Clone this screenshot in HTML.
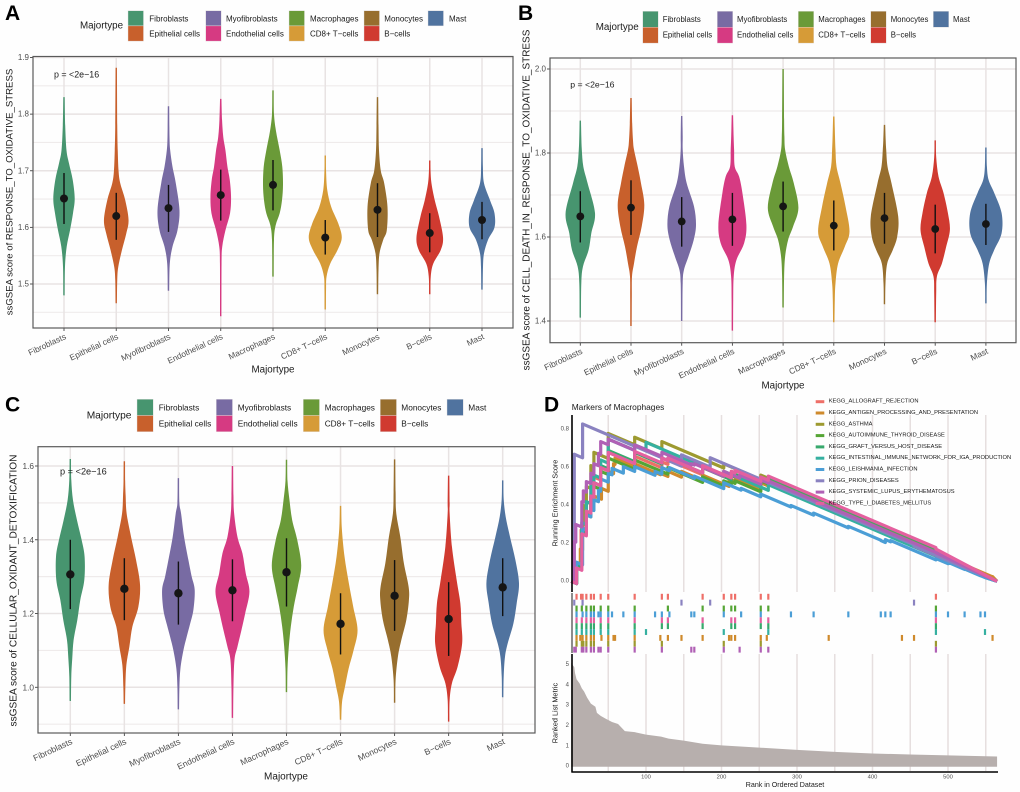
<!DOCTYPE html>
<html lang="en">
<head>
<meta charset="utf-8">
<title>ssGSEA violin plots and GSEA enrichment</title>
<style>
html,body{margin:0;padding:0;background:#fefefe;}
svg{display:block;font-family:"Liberation Sans",sans-serif;}
</style>
</head>
<body>
<svg id="fig" xmlns="http://www.w3.org/2000/svg" width="1020" height="792" viewBox="0 0 1020 792">
<rect x="0" y="0" width="1020" height="792" fill="#fefefe"/>
<g id="panelA"></g>
<g id="panelB"></g>
<g id="panelC"></g>
<g id="panelD"></g>
<g font-weight="bold" font-size="21" fill="#000">
<text x="5" y="20">A</text>
<text x="518" y="20">B</text>
<text x="5" y="411.5">C</text>
<text x="544" y="411.5">D</text>
</g>
<g fill="#1a1a1a">
<text font-size="9.6" text-anchor="middle" transform="translate(10,192) rotate(-90)" dominant-baseline="central">ssGSEA score of RESPONSE_TO_OXIDATIVE_STRESS</text>
<text font-size="9.98" text-anchor="middle" transform="translate(527,200) rotate(-90)" dominant-baseline="central">ssGSEA score of CELL_DEATH_IN_RESPONSE_TO_OXIDATIVE_STRESS</text>
<text font-size="10.15" text-anchor="middle" transform="translate(14,590.5) rotate(-90)" dominant-baseline="central">ssGSEA score of CELLULAR_OXIDANT_DETOXIFICATION</text>
<text font-size="9.8" text-anchor="middle" x="273" y="370" dominant-baseline="central">Majortype</text>
<text font-size="9.8" text-anchor="middle" x="783" y="386" dominant-baseline="central">Majortype</text>
<text font-size="10" text-anchor="middle" x="286" y="777" dominant-baseline="central">Majortype</text>
<text font-size="9.8" x="80" y="26" dominant-baseline="central">Majortype</text>
<text font-size="9.8" x="595.7" y="27.7" dominant-baseline="central">Majortype</text>
<text font-size="10.2" x="86.7" y="416" dominant-baseline="central">Majortype</text>
<text font-size="8.9" x="54" y="74.3" dominant-baseline="central">p = &lt;2e−16</text>
<text font-size="8.7" x="570.3" y="84.7" dominant-baseline="central">p = &lt;2e−16</text>
<text font-size="9.2" x="60" y="471.7" dominant-baseline="central">p = &lt;2e−16</text>
<text font-size="8.4" x="571.7" y="407" dominant-baseline="central">Markers of Macrophages</text>
<text font-size="7.25" text-anchor="middle" transform="translate(555,503) rotate(-90)" dominant-baseline="central">Running Enrichment Score</text>
<text font-size="7.3" text-anchor="middle" transform="translate(555,713) rotate(-90)" dominant-baseline="central">Ranked List Metric</text>
<text font-size="7.1" text-anchor="middle" x="785" y="785" dominant-baseline="central">Rank in Ordered Dataset</text>
</g>
</svg>
<script>
const categories = ["Fibroblasts","Epithelial cells","Myofibroblasts","Endothelial cells","Macrophages","CD8+ T\u2212cells","Monocytes","B\u2212cells","Mast"];

const ticksA = [1.5,1.6,1.7,1.8,1.9];
const minorTicksA = [1.45,1.55,1.65,1.75,1.85];
const medianA = [1.651,1.62,1.634,1.657,1.675,1.582,1.631,1.59,1.613];
const barLowA = [1.606,1.578,1.592,1.612,1.63,1.552,1.583,1.556,1.579];
const barHighA = [1.696,1.661,1.675,1.702,1.719,1.613,1.678,1.625,1.645];
const densityA = [
 [[1.83,.7],[1.78,1.2],[1.736,2.5],[1.713,5],[1.684,8.7],[1.651,10.7],[1.625,9],[1.595,6],[1.566,2.7],[1.531,1],[1.48,.7]],
 [[1.882,.7],[1.78,1],[1.736,1.5],[1.70,2.3],[1.678,4],[1.648,9],[1.613,12.3],[1.589,10],[1.56,5.7],[1.53,2],[1.507,1],[1.466,.7]],
 [[1.814,.7],[1.76,1],[1.736,1.7],[1.707,4],[1.678,7.3],[1.63,11],[1.595,9],[1.566,4],[1.536,1.3],[1.488,.7]],
 [[1.827,.7],[1.79,1.3],[1.76,2.5],[1.736,4.7],[1.707,6.7],[1.684,9],[1.654,10.3],[1.625,9.3],[1.595,4.7],[1.566,1.5],[1.536,.8],[1.443,.7]],
 [[1.842,.7],[1.80,1],[1.77,3],[1.736,6.7],[1.707,9.3],[1.675,10],[1.648,9],[1.625,6.7],[1.604,2.7],[1.578,1],[1.513,.7]],
 [[1.727,.7],[1.70,.8],[1.666,2],[1.636,6],[1.607,13],[1.582,16.5],[1.56,12.3],[1.536,5],[1.513,1.3],[1.49,.8],[1.455,.7]],
 [[1.83,.7],[1.78,1],[1.736,1.5],[1.70,3.3],[1.678,6.7],[1.636,10],[1.595,9.3],[1.578,5.7],[1.554,2],[1.525,1],[1.482,.7]],
 [[1.718,.7],[1.70,.8],[1.678,1.7],[1.648,5],[1.619,9.3],[1.582,13.3],[1.56,11],[1.536,3.5],[1.513,1],[1.482,.7]],
 [[1.74,.7],[1.707,.9],[1.678,2],[1.648,8],[1.625,12.5],[1.60,12.5],[1.578,6],[1.554,2],[1.53,1],[1.49,.7]]
];

const ticksB = [1.4,1.6,1.8,2.0];
const minorTicksB = [1.5,1.7,1.9];
const medianB = [1.649,1.67,1.637,1.642,1.673,1.627,1.645,1.619,1.631];
const barLowB = [1.587,1.605,1.577,1.579,1.613,1.568,1.584,1.561,1.581];
const barHighB = [1.709,1.735,1.695,1.705,1.732,1.687,1.705,1.677,1.679];
const densityB = [
 [[1.877,.7],[1.84,1],[1.808,1.5],[1.768,3],[1.728,7.3],[1.657,14.7],[1.609,11],[1.569,8.3],[1.53,2.7],[1.49,1],[1.408,.7]],
 [[1.931,.7],[1.87,1.2],[1.83,2],[1.808,3],[1.768,6.7],[1.728,10],[1.677,13.3],[1.625,10.7],[1.577,6],[1.537,3],[1.506,1],[1.458,.8],[1.388,.7]],
 [[1.888,.7],[1.84,1],[1.808,1],[1.768,2.3],[1.728,5],[1.673,12.3],[1.629,14.3],[1.593,12],[1.553,6.7],[1.522,2.3],[1.49,1],[1.40,.7]],
 [[1.89,.7],[1.84,1.2],[1.808,1.7],[1.768,2.3],[1.744,6.7],[1.705,10],[1.629,14],[1.585,11.7],[1.545,4],[1.506,1.3],[1.45,.8],[1.377,.7]],
 [[2.0,.7],[1.88,1],[1.84,1.3],[1.808,2],[1.768,5.7],[1.728,10.7],[1.669,15.3],[1.625,10],[1.593,5],[1.553,2],[1.506,1],[1.432,.7]],
 [[1.887,.7],[1.84,1.2],[1.808,1.7],[1.768,2.7],[1.728,6.7],[1.673,11.7],[1.613,15.7],[1.577,11],[1.537,4.3],[1.49,1.7],[1.45,1],[1.397,.7]],
 [[1.867,.7],[1.83,1.2],[1.808,1.7],[1.768,3],[1.728,7],[1.649,13.7],[1.601,12.7],[1.569,8.3],[1.537,2.7],[1.49,1],[1.44,.7]],
 [[1.83,.7],[1.79,1],[1.744,3.3],[1.705,8.3],[1.657,12.7],[1.617,14.7],[1.577,11],[1.537,6.7],[1.506,1.7],[1.466,1],[1.397,.7]],
 [[1.813,.7],[1.768,1],[1.736,2.7],[1.705,8.3],[1.657,15.7],[1.609,15.7],[1.569,8.3],[1.537,3.3],[1.49,1],[1.442,.7]]
];

const ticksC = [1.0,1.2,1.4,1.6];
const minorTicksC = [0.9,1.1,1.3,1.5];
const medianC = [1.306,1.267,1.255,1.263,1.312,1.172,1.248,1.185,1.271];
const barLowC = [1.212,1.182,1.17,1.179,1.219,1.089,1.153,1.085,1.193];
const barHighC = [1.40,1.35,1.341,1.347,1.404,1.255,1.345,1.285,1.35];
const densityC = [
 [[1.619,.7],[1.562,1],[1.507,2.7],[1.453,6.7],[1.40,11.3],[1.354,14.3],[1.291,14],[1.237,10],[1.182,7],[1.128,3.3],[1.08,2],[1.03,1],[.963,.7]],
 [[1.613,.7],[1.56,.8],[1.52,1.3],[1.471,2.3],[1.408,6.7],[1.345,11.7],[1.277,15.7],[1.218,14],[1.164,8],[1.11,5],[1.06,2],[1.0,1],[.955,.7]],
 [[1.567,.7],[1.50,1],[1.471,2.7],[1.408,5.7],[1.345,10],[1.30,13.3],[1.264,16.3],[1.21,15],[1.17,11.5],[1.137,8.3],[1.10,5],[1.05,2],[1.0,1],[.94,.7]],
 [[1.60,.7],[1.52,1],[1.471,1.7],[1.408,5],[1.363,10],[1.309,13.3],[1.259,17],[1.20,12.7],[1.155,9],[1.11,5],[1.074,2],[1.0,1],[.917,.7]],
 [[1.617,.7],[1.56,1],[1.507,3],[1.453,5.7],[1.40,10.7],[1.331,14.7],[1.273,11.3],[1.219,7.3],[1.164,4.3],[1.11,2.3],[1.05,1],[.987,.7]],
 [[1.492,.7],[1.43,1.3],[1.354,4],[1.282,8.3],[1.218,12.7],[1.155,17],[1.10,13],[1.05,8],[1.0,4.3],[.96,1.5],[.912,.7]],
 [[1.618,.7],[1.53,1],[1.471,1.7],[1.408,5.7],[1.336,9.3],[1.273,14],[1.236,14.3],[1.182,11.7],[1.128,6.7],[1.083,3.3],[1.02,1],[.958,.7]],
 [[1.574,.7],[1.50,1],[1.471,1],[1.381,3.3],[1.291,8],[1.228,11.7],[1.174,12.7],[1.119,13.5],[1.056,9],[1.011,3.3],[.966,1],[.907,.7]],
 [[1.561,.7],[1.51,1],[1.462,3],[1.408,7.3],[1.345,12.7],[1.282,16.3],[1.228,14],[1.173,10.7],[1.119,5],[1.083,2.3],[1.03,1],[.973,.7]]
];

const pathwayNames = ["KEGG_ALLOGRAFT_REJECTION","KEGG_ANTIGEN_PROCESSING_AND_PRESENTATION","KEGG_ASTHMA","KEGG_AUTOIMMUNE_THYROID_DISEASE","KEGG_GRAFT_VERSUS_HOST_DISEASE","KEGG_INTESTINAL_IMMUNE_NETWORK_FOR_IGA_PRODUCTION","KEGG_LEISHMANIA_INFECTION","KEGG_PRION_DISEASES","KEGG_SYSTEMIC_LUPUS_ERYTHEMATOSUS","KEGG_TYPE_I_DIABETES_MELLITUS"];
const hitRanks = [
 [8,14,16,21,27,31,40,50,85,121,129,175,203,213,218,252,262,484],
 [8,13,16,21,27,31,41,50,57,59,85,119,129,147,175,210,213,218,252,260,342,439,455,559],
 [8,15,17,21,27,31,50,85,121,203,252,484],
 [8,15,21,27,31,40,50,85,129,175,203,213,218,252,262,484],
 [8,15,21,27,31,40,50,85,121,129,175,213,218,252,262,484],
 [8,15,21,27,31,40,50,85,100,203,262,484,549],
 [8,16,21,27,31,37,40,50,55,70,85,112,121,131,160,164,203,226,252,292,322,368,411,417,424,484,500,522,543,549],
 [5,16,147,185,455],
 [5,7,15,17,21,27,31,37,40,50,85,121,160,164,203,224,252,262,484],
 [8,15,21,27,31,40,50,85,121,129,175,213,218,252,262,484]
];
const hitScores = [
 [.09,.27,.34,.42,.49,.55,.60,.68,.66,.63,.64,.60,.58,.58,.585,.55,.55,.16],
 [.08,.17,.28,.35,.40,.45,.49,.58,.62,.65,.62,.57,.58,.58,.56,.53,.535,.54,.52,.52,.39,.215,.20,.025],
 [.10,.30,.40,.50,.61,.68,.78,.76,.737,.62,.56,.166],
 [.09,.26,.36,.44,.50,.58,.65,.64,.60,.55,.53,.525,.53,.53,.53,.165],
 [.09,.27,.37,.45,.52,.61,.69,.68,.65,.65,.60,.56,.565,.55,.55,.165],
 [.10,.31,.42,.50,.56,.64,.75,.72,.733,.58,.51,.14,.02],
 [.10,.28,.35,.38,.43,.48,.54,.57,.596,.605,.605,.58,.60,.60,.55,.555,.52,.49,.46,.40,.36,.29,.215,.22,.215,.12,.10,.065,.03,.02],
 [.67,.83,.667,.652,.185],
 [.21,.30,.42,.477,.526,.57,.62,.675,.737,.75,.72,.68,.62,.62,.58,.56,.535,.53,.15],
 [.07,.25,.37,.45,.52,.60,.68,.685,.65,.65,.61,.58,.585,.55,.555,.17]
];
const rugRowOrder = [0,7,3,6,9,4,5,1,2,8];
const rankTicks = [100,200,300,400,500];
const rankGridlines = [50,100,150,200,250,300,350,400,450,500,550];
const scoreTicks = [0,0.2,0.4,0.6,0.8];
const metricTicks = [0,1,2,3,4,5];
const metricRanks = [1,5,6,8,12,15,18,22,27,33,35,40,47,55,63,72,85,100,120,130,150,175,200,250,300,350,400,450,500,565];
const metricValues = [5.1,4.9,4.6,4.3,4.1,3.85,3.7,3.4,3.1,2.95,2.65,2.5,2.35,2.2,2.1,1.75,1.7,1.58,1.48,1.38,1.28,1.13,1.05,.94,.83,.73,.65,.6,.56,.5];
const maxRank = 565;
const missDecline = 0.0017;

const violinColors = ["#47956f","#c8602c","#786ba3","#d63a82","#6a9a38","#d69b37","#976e2e","#d03a30","#50739f"];
const pathwayColors = ["#ee6f68","#cf8a2c","#9d9a30","#55a535","#38a96d","#35b0a0","#4b9ed6","#8a82c0","#b060b5","#e4609f"];

const NS = "http://www.w3.org/2000/svg";
function make(parent, tag, attrs, text) {
  const e = document.createElementNS(NS, tag);
  for (const k in attrs) e.setAttribute(k, attrs[k]);
  if (text !== undefined) e.textContent = text;
  parent.appendChild(e);
  return e;
}
function smoothPath(pts) {
  let d = "";
  for (let i = 0; i < pts.length - 1; i++) {
    const p0 = pts[Math.max(i - 1, 0)], p1 = pts[i], p2 = pts[i + 1], p3 = pts[Math.min(i + 2, pts.length - 1)];
    const c1x = p1[0] + (p2[0] - p0[0]) / 6, c1y = p1[1] + (p2[1] - p0[1]) / 6;
    const c2x = p2[0] - (p3[0] - p1[0]) / 6, c2y = p2[1] - (p3[1] - p1[1]) / 6;
    d += "C" + c1x.toFixed(2) + " " + c1y.toFixed(2) + " " + c2x.toFixed(2) + " " + c2y.toFixed(2) + " " + p2[0].toFixed(2) + " " + p2[1].toFixed(2);
  }
  return d;
}

function drawViolinPanel(cfg) {
  const root = document.getElementById(cfg.id);
  const x = i => cfg.x0 + i * cfg.dx;
  const y = v => cfg.y1 + (v - cfg.v1) * (cfg.y2 - cfg.y1) / (cfg.v2 - cfg.v1);
  cfg.minor.forEach(v => {
    const g = make(root, "line", {x1: cfg.left, x2: cfg.right, y1: y(v), y2: y(v), stroke: "#efebeb", "stroke-width": 1.2});
    
    
  });
  cfg.ticks.forEach(v => {
    const g = make(root, "line", {x1: cfg.left, x2: cfg.right, y1: y(v), y2: y(v), stroke: "#e8e3e3", "stroke-width": 1.5});
    
    
    const t = make(root, "line", {x1: cfg.left - 3, x2: cfg.left, y1: y(v), y2: y(v), stroke: "#444", "stroke-width": 0.9});
    
    
    const l = make(root, "text", {x: cfg.left - 4, y: y(v), "text-anchor": "end", "dominant-baseline": "central", "font-size": cfg.tickFont, fill: "#4d4d4d"}, v.toFixed(1));
    
    
  });
  categories.forEach((c, i) => {
    const g = make(root, "line", {x1: x(i), x2: x(i), y1: cfg.top, y2: cfg.bottom, stroke: "#e8e3e3", "stroke-width": 1.5});
    
    
  });
  categories.forEach((c, i) => {
    const profile = cfg.density[i];
    const right = profile.map(p => [x(i) + p[1], y(p[0])]);
    const left = profile.slice().reverse().map(p => [x(i) - p[1], y(p[0])]);
    const d = "M" + right[0][0].toFixed(2) + " " + right[0][1].toFixed(2) + smoothPath(right) +
      "L" + left[0][0].toFixed(2) + " " + left[0][1].toFixed(2) + smoothPath(left) + "Z";
    const v = make(root, "path", {d: d, fill: violinColors[i]});
    
    
    const b = make(root, "line", {x1: x(i), x2: x(i), y1: y(cfg.barHigh[i]), y2: y(cfg.barLow[i]), stroke: "#111", "stroke-width": 1.4});
    
    
    const m = make(root, "circle", {cx: x(i), cy: y(cfg.median[i]), r: cfg.dot, fill: "#151515"});
    
    
    const t = make(root, "line", {x1: x(i), x2: x(i), y1: cfg.bottom, y2: cfg.bottom + 3, stroke: "#444", "stroke-width": 0.9});
    
    
    const lx = x(i) + 2.7, ly = cfg.bottom + 10.5;
    const l = make(root, "text", {transform: "translate(" + lx + "," + ly + ") rotate(-25)", "text-anchor": "end", "font-size": cfg.catFont, fill: "#4d4d4d"}, c);
    
    
  });
  const border = make(root, "rect", {x: cfg.left, y: cfg.top, width: cfg.right - cfg.left, height: cfg.bottom - cfg.top, fill: "none", stroke: "#5a5a5a", "stroke-width": 1.2});
  
  
  categories.forEach((c, i) => {
    const col = Math.floor(i / 2), row = i % 2;
    const k = make(root, "rect", {x: cfg.keyX[col], y: cfg.keyY + row * cfg.keyH, width: cfg.keyW, height: cfg.keyH, fill: violinColors[i], stroke: "#e4e0e0", "stroke-width": 0.4});
    
    
    const l = make(root, "text", {x: cfg.labelX[col], y: cfg.labelY[row], "dominant-baseline": "central", "font-size": cfg.legFont, fill: "#1a1a1a"}, c);
    
    
  });
}

drawViolinPanel({id:"panelA",tag:"a",x0:64,dx:52.25,left:33,right:513,top:56.5,bottom:328,y1:57.5,v1:1.9,y2:284,v2:1.5,
  ticks:ticksA,minor:minorTicksA,median:medianA,barLow:barLowA,barHigh:barHighA,density:densityA,dot:4,tickFont:8,catFont:8.3,
  keyX:[128,205.7,289,364,428],keyY:10.7,keyW:15.5,keyH:15.2,labelX:[149.3,226,310,384.3,449],labelY:[19,34],legFont:8});
drawViolinPanel({id:"panelB",tag:"b",x0:580.3,dx:50.7,left:550,right:1016,top:58,bottom:342.7,y1:69,v1:2.0,y2:321,v2:1.4,
  ticks:ticksB,minor:minorTicksB,median:medianB,barLow:barLowB,barHigh:barHighB,density:densityB,dot:3.9,tickFont:8,catFont:8.4,
  keyX:[642.7,717.3,798.3,870.7,933.3],keyY:11.3,keyW:15.5,keyH:15.9,labelX:[662.7,737,818.3,890.7,953],labelY:[19.3,35],legFont:7.8});
drawViolinPanel({id:"panelC",tag:"c",x0:70.3,dx:54.05,left:38,right:535,top:446.7,bottom:733,y1:466,v1:1.6,y2:687.3,v2:1.0,
  ticks:ticksC,minor:minorTicksC,median:medianC,barLow:barLowC,barHigh:barHighC,density:densityC,dot:4.2,tickFont:8.3,catFont:8.6,
  keyX:[137,216.3,303.3,380.3,447],keyY:399.3,keyW:16.2,keyH:16.2,labelX:[158.7,237.7,324.7,401.3,468.3],labelY:[407.7,423.7],legFont:8.3});

(function drawGsea() {
  const root = document.getElementById("panelD");
  const rx = r => 646 + (r - 100) * 0.755;
  const sy = v => 581.3 - v * 189.6;
  const my = v => 766.7 - v * 20.33;
  rankGridlines.forEach(r => {
    const g1 = make(root, "line", {x1: rx(r), x2: rx(r), y1: 415, y2: 592, stroke: "#e6dfdf", "stroke-width": 1.5});
    
    
    const g2 = make(root, "line", {x1: rx(r), x2: rx(r), y1: 654, y2: 771, stroke: "#e6dfdf", "stroke-width": 1.5});
    
    
  });
  pathwayNames.forEach((name, s) => {
    let d = "M" + rx(1) + " " + sy(0);
    let prev = 0, prevRank = 1;
    hitRanks[s].forEach((r, i) => {
      const trough = prev - missDecline * (r - prevRank);
      d += "L" + rx(r).toFixed(2) + " " + sy(trough).toFixed(2) + "L" + rx(r).toFixed(2) + " " + sy(hitScores[s][i]).toFixed(2);
      prev = hitScores[s][i];
      prevRank = r;
    });
    d += "L" + rx(maxRank).toFixed(2) + " " + sy(0).toFixed(2);
    const c = make(root, "path", {d: d, fill: "none", stroke: pathwayColors[s], "stroke-width": 3.2, "stroke-linejoin": "round"});
    
    
    const k = make(root, "rect", {x: 815.7, y: 401.7 + s * 11.3 - 1.5, width: 8.6, height: 3, fill: pathwayColors[s]});
    
    
    const l = make(root, "text", {x: 828.7, y: 401.7 + s * 11.3, "dominant-baseline": "central", "font-size": 5.75, fill: "#1a1a1a"}, name);
    
    
  });
  rugRowOrder.forEach((s, row) => {
    hitRanks[s].forEach(r => {
      const m = make(root, "rect", {x: rx(r) - 1.1, y: 593.8 + row * 5.88, width: 2.2, height: 5.88, fill: pathwayColors[s]});
      
      
    });
  });
  let ad = "M" + rx(metricRanks[0]).toFixed(2) + " " + my(0);
  metricRanks.forEach((r, i) => {
    ad += "L" + rx(r).toFixed(2) + " " + my(metricValues[i]).toFixed(2);
  });
  ad += "L" + rx(maxRank).toFixed(2) + " " + my(0) + "Z";
  const area = make(root, "path", {d: ad, fill: "#b7afad"});
  
  
  const axisTop = make(root, "line", {x1: 572, x2: 572, y1: 415, y2: 592, stroke: "#000", "stroke-width": 1.6});
  
  
  const axisRug = make(root, "line", {x1: 572, x2: 572, y1: 593, y2: 653, stroke: "#000", "stroke-width": 0.9});
  
  
  const axisMetric = make(root, "line", {x1: 572, x2: 572, y1: 654, y2: 772.5, stroke: "#000", "stroke-width": 1.6});
  
  
  const axisX = make(root, "line", {x1: 571.5, x2: 998, y1: 772, y2: 772, stroke: "#000", "stroke-width": 1.5});
  
  
  scoreTicks.forEach(v => {
    const l = make(root, "text", {x: 569, y: sy(v), "text-anchor": "end", "dominant-baseline": "central", "font-size": 6, fill: "#4d4d4d"}, v.toFixed(1));
    
    
  });
  metricTicks.forEach(v => {
    const l = make(root, "text", {x: 569, y: my(v), "text-anchor": "end", "dominant-baseline": "central", "font-size": 6, fill: "#4d4d4d"}, String(v));
    
    
  });
  rankTicks.forEach(r => {
    const l = make(root, "text", {x: rx(r), y: 777.7, "text-anchor": "middle", "dominant-baseline": "central", "font-size": 5.8, fill: "#4d4d4d"}, String(r));
    
    
  });
})();
</script>
</body>
</html>
